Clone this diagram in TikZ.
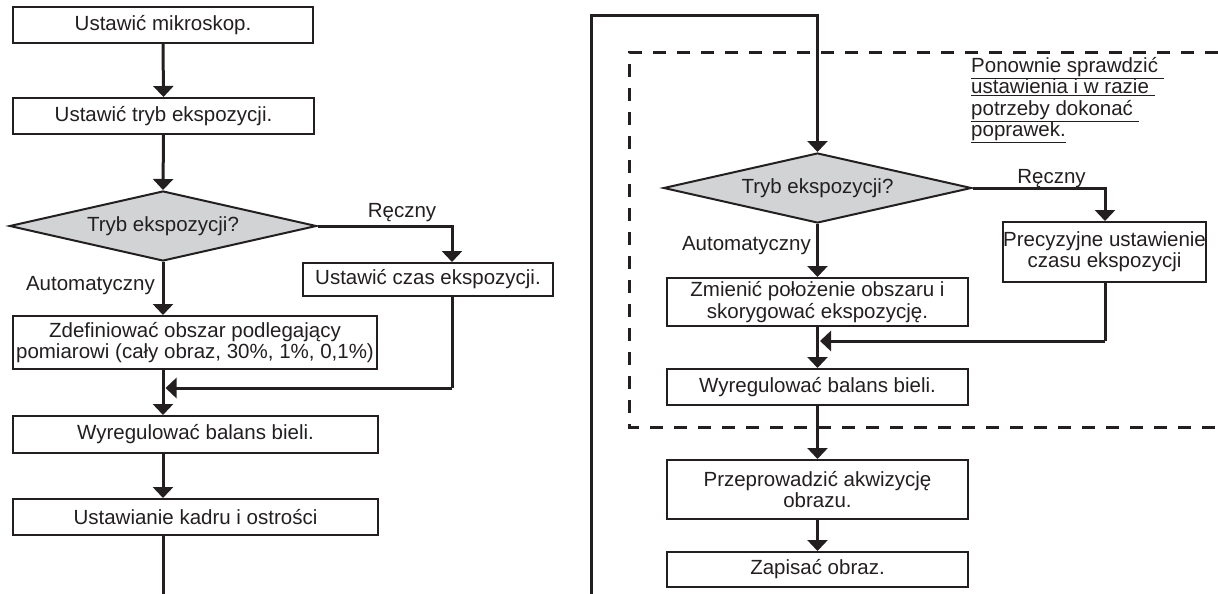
\documentclass[tikz,border=0pt]{standalone}
\usepackage{fontspec}
\setmainfont{Liberation Sans}
\usetikzlibrary{shapes.geometric,arrows.meta}
\definecolor{ink}{RGB}{35,31,32}
\definecolor{dfill}{RGB}{209,211,212}
\begin{document}
\begin{tikzpicture}[x=1pt,y=-1pt,
  every node/.style={font=\fontsize{20.5}{21.3}\selectfont, text=ink},
  box/.style={draw=ink, line width=2pt, rectangle, inner sep=0pt, align=center, fill=white},
  dec/.style={draw=ink, line width=2pt, diamond, aspect=4.4, inner sep=0pt, fill=dfill},
  flow/.style={draw=ink, line width=3pt, -{Triangle[width=20pt,length=11pt]}},
  conn/.style={draw=ink, line width=3pt},
  lbl/.style={inner sep=0pt},
  region/.style={draw=ink, line width=3pt, dash pattern=on 13pt off 11pt}]
\useasboundingbox (0,0) rectangle (1218,594);

% ---------------- left column ----------------
\node[box, minimum width=300pt, minimum height=36pt] (b1) at (163,25) {Ustawić mikroskop.};
\node[box, minimum width=301pt, minimum height=36pt] (b2) at (163.5,116) {Ustawić tryb ekspozycji.};
\node[dec, minimum width=307pt, minimum height=70pt] (d1) at (163,226) {Tryb ekspozycji?};
\node[box, minimum width=250pt, minimum height=33pt] (b3) at (428,279.5) {Ustawić czas ekspozycji.};
\node[box, minimum width=364pt, minimum height=53pt] (b4) at (195,342.5) {Zdefiniować obszar podlegający\\pomiarowi (cały obraz, 30\%, 1\%, 0,1\%)};
\node[box, minimum width=365pt, minimum height=37pt] (b5) at (195.5,434.5) {Wyregulować balans bieli.};
\node[box, minimum width=365pt, minimum height=36pt] (b6) at (195.5,517) {Ustawianie kadru i ostrości};

\node[lbl, anchor=base] (l1) at (402,217) {Ręczny};
\node[lbl, anchor=base east] (l2) at (155,290) {Automatyczny};

\coordinate (r1) at (452,226);
\coordinate (m1) at (452,388);
\coordinate (m1t) at (165.5,388);
\coordinate (e1) at (163,594);

\draw[flow] (b1.south) -- (b2.north);
\draw[flow] (b2.south) -- (d1.north);
\draw[flow] (d1.south) -- (d1.south |- b4.north);
\draw[flow] (d1.east) -- (r1) -- (r1 |- b3.north);
\draw[conn] (r1 |- b3.south) -- (m1);
\draw[flow] (m1) -- (m1t);
\draw[flow] (d1.south |- b4.south) -- (d1.south |- b5.north);
\draw[flow] (d1.south |- b5.south) -- (d1.south |- b6.north);
\draw[conn] (d1.south |- b6.south) -- (e1);

% ---------------- right column ----------------
\draw[region] (1218,53) -- (629,53) -- (629,427) -- (1218,427);

\node[dec, minimum width=308pt, minimum height=70pt] (d2) at (817.5,188) {Tryb ekspozycji?};
\node[box, minimum width=203pt, minimum height=60pt] (b8) at (1104.5,252) {Precyzyjne ustawienie\\czasu ekspozycji};
\node[box, minimum width=301pt, minimum height=48pt] (b7) at (817.5,302) {Zmienić położenie obszaru i\\skorygować ekspozycję.};
\node[box, minimum width=301pt, minimum height=36pt] (b9) at (817.5,387) {Wyregulować balans bieli.};
\node[box, minimum width=301pt, minimum height=59pt] (b10) at (817.5,489.5) {Przeprowadzić akwizycję\\obrazu.};
\node[box, minimum width=301pt, minimum height=35pt] (b11) at (817.5,569.5) {Zapisać obraz.};

\node[lbl, anchor=base] (l3) at (1051.5,183) {Ręczny};
\node[lbl, anchor=base east] (l4) at (811,250) {Automatyczny};

\node[lbl, anchor=base west] (n1) at (971,72.5) {\underline{Ponownie sprawdzić\ }};
\node[lbl, anchor=base west] (n2) at (971,93.8) {\underline{ustawienia i w razie\ }};
\node[lbl, anchor=base west] (n3) at (971,115.2) {\underline{potrzeby dokonać\ }};
\node[lbl, anchor=base west] (n4) at (971,136.5) {\underline{poprawek.}};

\coordinate (s0) at (591,594);
\coordinate (s1) at (591,16);
\coordinate (s2) at (817.5,16);
\coordinate (r2) at (1105,188);
\coordinate (m2) at (1105,341);
\coordinate (m2t) at (820,341);

\draw[flow] (s0) -- (s1) -- (s2) -- (d2.north);
\draw[flow] (d2.south) -- (b7.north);
\draw[flow] (d2.east) -- (r2) -- (r2 |- b8.north);
\draw[conn] (r2 |- b8.south) -- (m2);
\draw[flow] (m2) -- (m2t);
\draw[flow] (b7.south) -- (b9.north);
\draw[flow] (b9.south) -- (b10.north);
\draw[flow] (b10.south) -- (b11.north);
\end{tikzpicture}
\end{document}
